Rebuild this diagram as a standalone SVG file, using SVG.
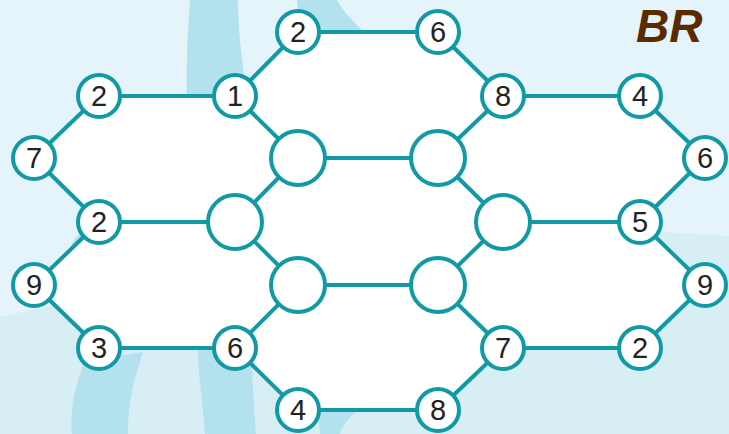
<svg xmlns="http://www.w3.org/2000/svg" width="729" height="434" viewBox="0 0 729 434">
<style>
.e{stroke:#1199a6;stroke-width:4;fill:none}
.n{fill:#fff;stroke:#1199a6;stroke-width:4}
.t{font-family:"Liberation Sans",Arial,sans-serif;font-size:29px;fill:#222;text-anchor:middle}
.st{fill:#b3e1ee}
</style>
<g id="background">
<rect width="729" height="434" fill="#e5f4fa"/>
<path d="M0,317 L77,300 L660,232 L729,236 L729,434 L0,434 Z" fill="#d7eef5"/>
<path class="st" d="M190,0 L238,0 C238,30 242,60 247,100 L187,100 C186,60 188,30 190,0 Z"/>
<path class="st" d="M297,0 L337,0 C343,12 352,20 364,32 L300,32 Z"/>
<path class="st" d="M85,360 L143,352 C134,380 128,400 128,434 L72,434 C70,410 74,390 85,360 Z"/>
<path class="st" d="M198,345 L252,352 C252,380 254,410 256,434 L205,434 C203,400 198,380 198,345 Z"/>
<path class="st" d="M318,410 L358,410 C348,418 342,426 340,434 L320,434 Z"/>
<path class="st" d="M70,250 C72,240 78,234 86,232 L88,252 Z"/>
</g>
<text x="636" y="42" font-family="Liberation Sans,Arial,sans-serif" font-size="46" font-weight="bold" font-style="italic" fill="#5a2a00">BR</text>
<polygon points="298,32 438,32 503,96 640,96 705,158 640,222 705,285 640,348 503,348 438,410 298,410 235,348 99,348 34,285 99,222 34,158 99,96 235,96" fill="#fff"/>
<g id="connectors" class="e">
<line x1="298" y1="32" x2="438" y2="32"/>
<line x1="235" y1="96" x2="298" y2="32"/>
<line x1="438" y1="32" x2="503" y2="96"/>
<line x1="99" y1="96" x2="235" y2="96"/>
<line x1="503" y1="96" x2="640" y2="96"/>
<line x1="99" y1="96" x2="34" y2="158"/>
<line x1="34" y1="158" x2="99" y2="222"/>
<line x1="235" y1="96" x2="298" y2="158"/>
<line x1="503" y1="96" x2="438" y2="158"/>
<line x1="298" y1="158" x2="438" y2="158"/>
<line x1="640" y1="96" x2="705" y2="158"/>
<line x1="705" y1="158" x2="640" y2="222"/>
<line x1="298" y1="158" x2="235" y2="222"/>
<line x1="438" y1="158" x2="503" y2="222"/>
<line x1="99" y1="222" x2="235" y2="222"/>
<line x1="503" y1="222" x2="640" y2="222"/>
<line x1="99" y1="222" x2="34" y2="285"/>
<line x1="34" y1="285" x2="99" y2="348"/>
<line x1="99" y1="348" x2="235" y2="348"/>
<line x1="235" y1="222" x2="298" y2="285"/>
<line x1="298" y1="285" x2="438" y2="285"/>
<line x1="503" y1="222" x2="438" y2="285"/>
<line x1="640" y1="222" x2="705" y2="285"/>
<line x1="705" y1="285" x2="640" y2="348"/>
<line x1="298" y1="285" x2="235" y2="348"/>
<line x1="438" y1="285" x2="503" y2="348"/>
<line x1="503" y1="348" x2="640" y2="348"/>
<line x1="235" y1="348" x2="298" y2="410"/>
<line x1="298" y1="410" x2="438" y2="410"/>
<line x1="438" y1="410" x2="503" y2="348"/>
</g>
<g id="n-top2"><circle class="n" cx="298" cy="32" r="21"/><text class="t" x="298" y="42">2</text></g>
<g id="n-top6"><circle class="n" cx="438" cy="32" r="21"/><text class="t" x="438" y="42">6</text></g>
<g id="n-2a"><circle class="n" cx="99" cy="96" r="21"/><text class="t" x="99" y="106">2</text></g>
<g id="n-1"><circle class="n" cx="235" cy="96" r="21"/><text class="t" x="235" y="106">1</text></g>
<g id="n-8a"><circle class="n" cx="503" cy="96" r="21"/><text class="t" x="503" y="106">8</text></g>
<g id="n-4a"><circle class="n" cx="640" cy="96" r="21"/><text class="t" x="640" y="106">4</text></g>
<g id="n-7a"><circle class="n" cx="34" cy="158" r="21"/><text class="t" x="34" y="168">7</text></g>
<g id="n-6r"><circle class="n" cx="705" cy="158" r="21"/><text class="t" x="705" y="168">6</text></g>
<g id="n-2b"><circle class="n" cx="99" cy="222" r="21"/><text class="t" x="99" y="232">2</text></g>
<g id="n-5"><circle class="n" cx="640" cy="222" r="21"/><text class="t" x="640" y="232">5</text></g>
<g id="n-9l"><circle class="n" cx="34" cy="285" r="21"/><text class="t" x="34" y="295">9</text></g>
<g id="n-9r"><circle class="n" cx="705" cy="285" r="21"/><text class="t" x="705" y="295">9</text></g>
<g id="n-3"><circle class="n" cx="99" cy="348" r="21"/><text class="t" x="99" y="358">3</text></g>
<g id="n-6b"><circle class="n" cx="235" cy="348" r="21"/><text class="t" x="235" y="358">6</text></g>
<g id="n-7b"><circle class="n" cx="503" cy="348" r="21"/><text class="t" x="503" y="358">7</text></g>
<g id="n-2c"><circle class="n" cx="640" cy="348" r="21"/><text class="t" x="640" y="358">2</text></g>
<g id="n-4b"><circle class="n" cx="298" cy="410" r="21"/><text class="t" x="298" y="420">4</text></g>
<g id="n-8b"><circle class="n" cx="438" cy="410" r="21"/><text class="t" x="438" y="420">8</text></g>
<g id="e-tl"><circle class="n" cx="298" cy="158" r="27"/></g>
<g id="e-tr"><circle class="n" cx="438" cy="158" r="27"/></g>
<g id="e-ml"><circle class="n" cx="235" cy="222" r="27"/></g>
<g id="e-mr"><circle class="n" cx="503" cy="222" r="27"/></g>
<g id="e-bl"><circle class="n" cx="298" cy="285" r="27"/></g>
<g id="e-br"><circle class="n" cx="438" cy="285" r="27"/></g>
</svg>
